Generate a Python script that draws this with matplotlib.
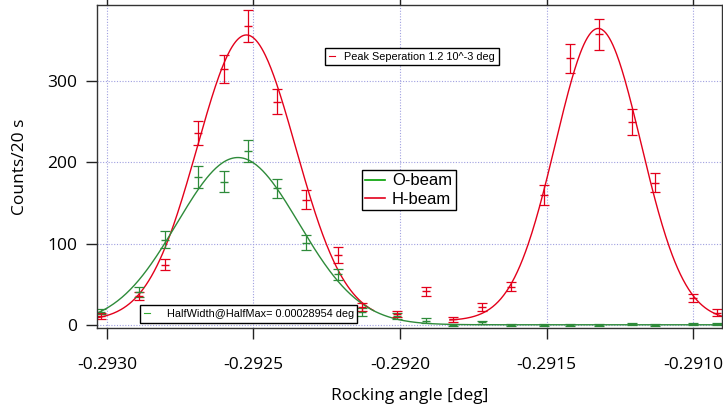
import numpy as np
import matplotlib
matplotlib.use("Agg")
import matplotlib.pyplot as plt
from matplotlib.lines import Line2D

# measured points (rocking angle in deg)
angle = [-0.29302, -0.29289, -0.29280, -0.29269, -0.29260, -0.29252, -0.29242,
         -0.29232, -0.29221, -0.29213, -0.29201, -0.29191, -0.29182, -0.29172,
         -0.29162, -0.29151, -0.29142, -0.29132, -0.29121, -0.29113, -0.29100,
         -0.29092]
h_counts = [11, 35, 74, 236, 315, 368, 275, 154, 86, 22, 13, 41, 7, 22,
            47, 160, 328, 358, 250, 175, 33, 15]
h_err = [4, 5, 7, 15, 17, 20, 15, 12, 10, 5, 4, 6, 3, 5, 6, 12, 18, 19, 16, 12, 5, 4]
o_counts = [16, 40, 105, 182, 176, 214, 168, 101, 62, 16, 11, 5, 0, 3,
            0, 0, 0, 0, 1, 0, 1, 1]
o_err = [3, 6, 10, 13, 13, 14, 12, 9, 7, 5, 4, 3, 1, 2, 1, 1, 1, 1, 1, 1, 1, 1]

# gaussian fit parameters: amplitude, centre, sigma, baseline
h_fit_left = (352, -0.292524, 0.000168, 5)
h_fit_right = (360, -0.291324, 0.000146, 5)
o_fit = (206, -0.292553, 0.000208, 0)

x_ticks = [-0.2930, -0.2925, -0.2920, -0.2915, -0.2910]
y_ticks = [0, 100, 200, 300]

RED = "#e3001b"
GREEN = "#2e8b3a"


def gauss(x, p):
    a, mu, s, b = p
    return a * np.exp(-(x - mu) ** 2 / (2 * s ** 2)) + b


xmin, xmax = -0.293034, -0.290901
fig = plt.figure(figsize=(7.23, 4.09), dpi=100)
ax = fig.add_axes([0.134, 0.198, 0.865, 0.790])

ax.grid(True, color="#a0a0e0", linestyle=(0, (1, 1.5)), linewidth=0.8)
ax.set_axisbelow(True)

xl = np.linspace(xmin, -0.29209, 300)
xr = np.linspace(-0.29183, xmax, 300)
xa = np.linspace(xmin, xmax, 600)
ax.plot(xl, gauss(xl, h_fit_left), color=RED, lw=1.0)
ax.plot(xr, gauss(xr, h_fit_right), color=RED, lw=1.0)
ax.plot(xa, gauss(xa, o_fit), color=GREEN, lw=1.0)

ax.errorbar(angle, o_counts, yerr=o_err, fmt="_", color=GREEN, ms=6,
            elinewidth=0.9, capsize=3.5, capthick=0.9)
ax.errorbar(angle, h_counts, yerr=h_err, fmt="_", color=RED, ms=6,
            elinewidth=0.9, capsize=3.5, capthick=0.9)

ax.set_xlim(xmin, xmax)
ax.set_ylim(-4, 394)
ax.set_xticks(x_ticks)
ax.set_xticklabels(["%.4f" % v for v in x_ticks])
ax.set_yticks(y_ticks)
ax.tick_params(axis="both", labelsize=12.5, length=8, width=1, direction="out",
               top=True, right=False, colors="#222222", labelcolor="black")
ax.tick_params(axis="x", top=True, pad=13)
ax.tick_params(axis="y", pad=6)
for sp in ax.spines.values():
    sp.set_color("#333333")
    sp.set_linewidth(1)
for lab in ax.get_xticklabels() + ax.get_yticklabels():
    lab.set_family("Open Sans")

ax.set_xlabel("Rocking angle [deg]", fontsize=12.5, family="Open Sans", labelpad=11)
ax.set_ylabel("Counts/20 s", fontsize=12.5, family="Open Sans")
ax.yaxis.set_label_coords(-0.110, 0.5)

lg_kw = dict(frameon=True, fancybox=False, edgecolor="black", framealpha=1,
             borderaxespad=0, prop={"family": "Liberation Sans", "size": 7.8})

leg1 = ax.legend([Line2D([], [], color=RED, lw=0.8)],
                 ["Peak Seperation 1.2 10^-3 deg"], loc="upper left",
                 bbox_to_anchor=(0.365, 0.867), handlelength=0.6,
                 borderpad=0.35, **lg_kw)
leg1.get_frame().set_linewidth(1)
ax.add_artist(leg1)

leg3 = ax.legend([Line2D([], [], color="#33aa33", lw=0.8)],
                 ["HalfWidth@HalfMax= 0.00028954 deg"], loc="lower left",
                 bbox_to_anchor=(0.069, 0.016), handlelength=0.6,
                 borderpad=0.35, handletextpad=1.5, **lg_kw)
leg3.get_frame().set_linewidth(1)
ax.add_artist(leg3)

lg_kw["prop"] = {"family": "Liberation Sans", "size": 12}
leg2 = ax.legend([Line2D([], [], color="#00a000", lw=1.2),
                  Line2D([], [], color=RED, lw=1.2)],
                 ["O-beam", "H-beam"], loc="upper left",
                 bbox_to_anchor=(0.424, 0.489), handlelength=1.2,
                 borderpad=0.2, labelspacing=0.2, handletextpad=0.4, **lg_kw)
leg2.get_frame().set_linewidth(1)

fig.savefig("out.png", dpi=100)
